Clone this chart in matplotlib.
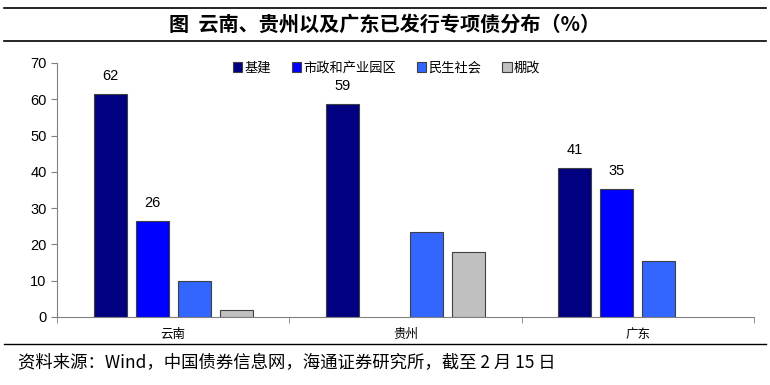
import matplotlib

matplotlib.use("Agg")

import matplotlib.pyplot as plt
import numpy as np
from matplotlib.lines import Line2D

plt.rcParams["font.family"] = ["Noto Sans CJK SC", "DejaVu Sans"]

# ── data ────────────────────────────────────────────────────────────────
regions = ["云南", "贵州", "广东"]
series_names = ["基建", "市政和产业园区", "民生社会", "棚改"]
jijian = [61.5, 58.7, 41.0]
shizheng = [26.4, 0.0, 35.4]
minsheng = [9.9, 23.3, 15.4]
penggai = [1.9, 17.9, 0.0]
# which bars carry a value label (region index, series index, text)
labels = [(0, 0, "62"), (0, 1, "26"), (1, 0, "59"), (2, 0, "41"), (2, 1, "35")]

colors = ["#000080", "#0000FF", "#3366FF", "#C0C0C0"]

fig = plt.figure(figsize=(7.7, 3.85), dpi=100)
ax = fig.add_axes([57 / 770, 1 - 317 / 385, (754 - 57) / 770, (317 - 63) / 385])

values = [jijian, shizheng, minsheng, penggai]
x = np.arange(len(regions))
width = 0.142
step = 0.181
bars_by_series = []
for k, (vals, col, name) in enumerate(zip(values, colors, series_names)):
    pos = x + (k - 1.5) * step
    b = ax.bar(pos, vals, width, color=col, edgecolor="#404040", linewidth=0.8, label=name)
    bars_by_series.append(b)
    # hide zero-height bars
    for rect, v in zip(b, vals):
        if v == 0:
            rect.set_visible(False)

for ri, si, txt in labels:
    rect = bars_by_series[si][ri]
    ax.text(rect.get_x() + rect.get_width() / 2, rect.get_height() + 3, txt,
            ha="center", va="bottom", fontsize=10.5, family=["Liberation Sans", "DejaVu Sans"])

ax.set_xlim(-0.5, 2.5)
ax.set_ylim(0, 70)
ax.set_yticks(range(0, 71, 10))
ax.set_xticks(x)
ax.set_xticklabels(regions, fontsize=9)
ax.set_xticks([-0.5, 0.5, 1.5, 2.5], minor=True)
ax.tick_params(axis="x", which="major", length=0, pad=8)
ax.tick_params(axis="x", which="minor", length=4, direction="out", color="#808080")
ax.tick_params(axis="y", length=4, direction="out", color="#808080", labelsize=10.5)
for lbl in ax.get_yticklabels():
    lbl.set_family(["Liberation Sans", "DejaVu Sans"])
for side in ("top", "right"):
    ax.spines[side].set_visible(False)
for side in ("left", "bottom"):
    ax.spines[side].set_color("#808080")

leg = ax.legend(loc="center", bbox_to_anchor=(0.473, 0.98), ncol=4, frameon=False,
                fontsize=9.5, handlelength=0.7, handleheight=0.7, handletextpad=0.15,
                columnspacing=1.6, borderaxespad=0, borderpad=0)

# title + rules
fig.add_artist(Line2D([0.005, 0.995], [1 - 8 / 385, 1 - 8 / 385], color="black", lw=1.2))
fig.add_artist(Line2D([0.005, 0.995], [1 - 41 / 385, 1 - 41 / 385], color="black", lw=1.2))
fig.text(0.5, 1 - 24.5 / 385, "图  云南、贵州以及广东已发行专项债分布（%）", ha="center", va="center",
         fontsize=14.5, fontweight="bold")

fig.add_artist(Line2D([0.005, 0.995], [1 - 344 / 385, 1 - 344 / 385], color="black", lw=1.0))
fig.text(18 / 770, 1 - 363 / 385, "资料来源：Wind，中国债券信息网，海通证券研究所，截至 2 月 15 日",
         ha="left", va="center", fontsize=12.5)

fig.savefig("out.png", dpi=100)
